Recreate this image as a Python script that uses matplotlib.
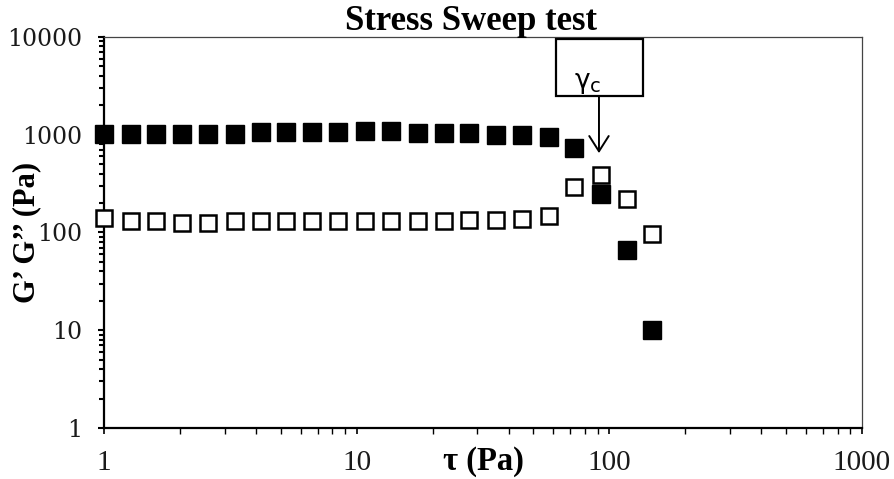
import numpy as np
import matplotlib
matplotlib.use("Agg")
import matplotlib.pyplot as plt
from matplotlib.patches import Rectangle

# Stress sweep: shear stress (Pa) vs storage / loss modulus (Pa)
tau = [1.00, 1.275, 1.60, 2.04, 2.58, 3.29, 4.17, 5.27, 6.68, 8.47, 10.8,
       13.7, 17.5, 22.1, 27.9, 35.6, 45.1, 57.5, 72.7, 92.7, 117, 148]
g_storage = [1010, 1010, 1010, 1010, 1010, 1010, 1070, 1070, 1070, 1070, 1085,
             1085, 1045, 1045, 1045, 1005, 1005, 950, 725, 248, 66, 10]
g_loss = [142, 132, 130, 126, 126, 130, 132, 132, 132, 130, 130,
          130, 130, 130, 134, 134, 139, 147, 293, 389, 218, 96]

x_ticks = [1, 10, 100, 1000]
x_ticklabels = ["1", "10", "100", "1000"]
y_ticks = [1, 10, 100, 1000, 10000]
y_ticklabels = ["1", "10", "100", "1000", "10000"]

fig = plt.figure(figsize=(8.95, 4.79), dpi=100)
ax = fig.add_axes([104/895, 1-428/479, 758/895, 391/479])

# G' filled, G'' open (drawn on top)
ax.plot(tau, g_storage, linestyle="none", marker="s", ms=12.5,
        mfc="black", mec="black", mew=1.0, clip_on=False, zorder=3)
ax.plot(tau, g_loss, linestyle="none", marker="s", ms=11.5,
        mfc="white", mec="black", mew=1.8, clip_on=False, zorder=4)

ax.set_xscale("log")
ax.set_yscale("log")
ax.set_xlim(1, 1000)
ax.set_ylim(1, 10000)

ax.set_xticks(x_ticks)
ax.set_xticklabels(x_ticklabels, family="Liberation Serif", fontsize=21, color="#1a1a1a")
ax.set_yticks(y_ticks)
ax.set_yticklabels(y_ticklabels, family="DejaVu Serif", fontsize=17, color="#1a1a1a")
ax.tick_params(axis="x", which="major", direction="out", length=4.5, width=1.2, pad=11.5)
ax.tick_params(axis="x", which="minor", direction="out", length=4.5, width=1.0)
ax.tick_params(axis="y", which="major", direction="out", length=4.5, width=1.5, pad=11.5)
ax.tick_params(axis="y", which="minor", direction="out", length=3.5, width=1.5)

for side in ("left", "bottom"):
    ax.spines[side].set_linewidth(1.6)
    ax.spines[side].set_color("black")
for side in ("top", "right"):
    ax.spines[side].set_linewidth(0.9)
    ax.spines[side].set_color("#444444")

ax.set_xlabel("τ (Pa)", family="Liberation Serif", fontweight="bold", fontsize=23.5)
ax.xaxis.set_label_coords(0.5, -0.045)
ax.set_ylabel("G’ G’’ (Pa)", family="Liberation Serif", fontweight="bold", fontsize=22)
ax.yaxis.set_label_coords(-0.083, 0.5)

fig.text(471/895, 1-30.5/479, "Stress Sweep test", family="Liberation Serif",
         fontweight="bold", fontsize=25, ha="center", va="baseline")

# critical stress callout
box = Rectangle((0.596, 0.849), 0.115, 0.146, transform=ax.transAxes,
                fill=True, facecolor="white", edgecolor="black", lw=1.6,
                clip_on=False, zorder=5)
ax.add_patch(box)
ax.text(0.621, 0.870, "γ", transform=ax.transAxes, family="DejaVu Sans",
        fontsize=19, ha="left", va="baseline", zorder=6)
ax.text(0.641, 0.860, "c", transform=ax.transAxes, family="DejaVu Sans",
        fontsize=14, ha="left", va="baseline", zorder=6)
ax.annotate("", xy=(0.653, 0.703), xytext=(0.653, 0.849),
            xycoords="axes fraction", textcoords="axes fraction",
            arrowprops=dict(arrowstyle="->,head_length=0.55,head_width=0.35",
                            mutation_scale=20, lw=1.4, color="black",
                            shrinkA=0, shrinkB=0), zorder=6)

fig.savefig("out.png", dpi=100)
